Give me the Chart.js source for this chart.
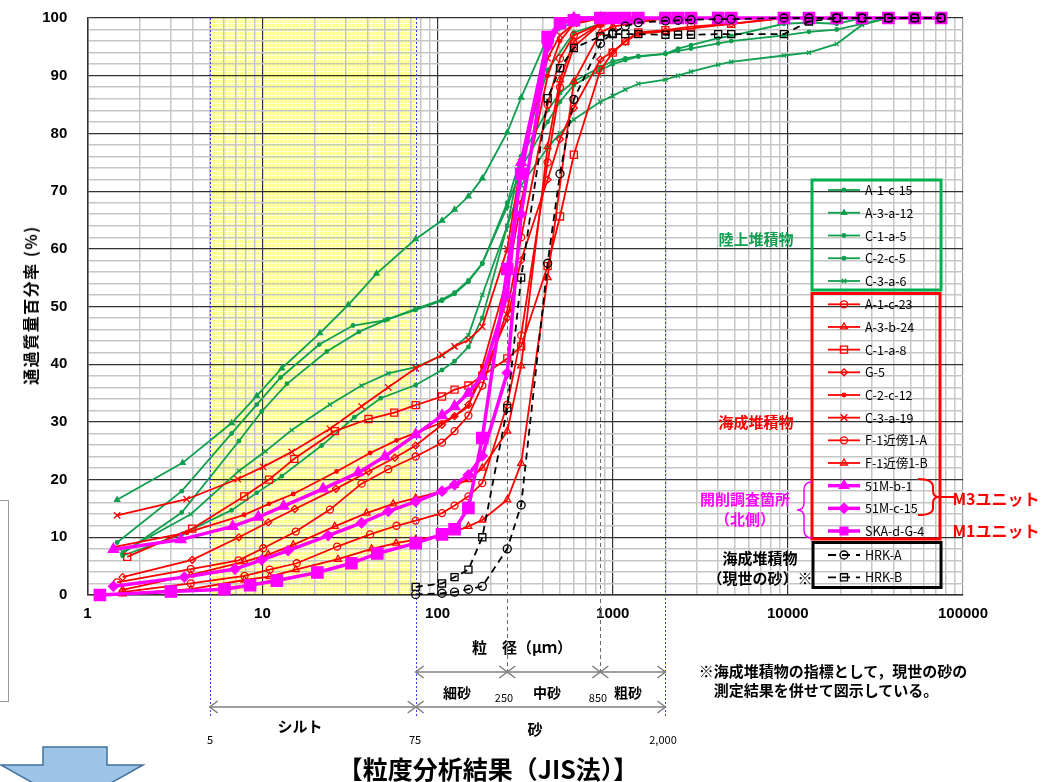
<!DOCTYPE html>
<html>
<head>
<meta charset="utf-8">
<script src="https://cdn.jsdelivr.net/npm/chart.js@4.4.1/dist/chart.umd.min.js"></script>
<style>
    body { margin: 0; background: #fff; width: 1047px; height: 782px; overflow: hidden; position: relative; }
    #myChart { position: absolute; left: 0; top: 0; }
    .c { position: absolute; transform: translate(-50%, -50%); white-space: nowrap; font-weight: bold; line-height: 1;
         font-family: "Noto Sans CJK JP", sans-serif; }
    .lg { position: absolute; left: 865px; transform: translateY(-50%); white-space: nowrap; line-height: 1;
          font-family: "Noto Sans CJK JP", sans-serif; font-size: 12.5px; color: #000; }
    .frag { position: absolute; left: -2px; top: 500px; width: 9px; height: 200px; border: 1px solid #9a9a9a; }
</style>
</head>
<body>
<canvas id="myChart" width="1047" height="782"></canvas>
<div class="frag"></div>

<div class="c" style="left:30px;top:305px;font-size:16px;letter-spacing:1.5px;transform:translate(-50%,-50%) rotate(-90deg)">通過質量百分率 (%)</div>
<div class="c" style="left:522px;top:646px;font-size:15px">粒　径（μｍ）</div>

<div class="c" style="left:457px;top:692px;font-size:14px">細砂</div>
<div class="c" style="left:504px;top:697px;font-size:11px;font-weight:normal">250</div>
<div class="c" style="left:547px;top:692px;font-size:14px">中砂</div>
<div class="c" style="left:598px;top:697px;font-size:11px;font-weight:normal">850</div>
<div class="c" style="left:628px;top:692px;font-size:14px">粗砂</div>
<div class="c" style="left:300px;top:725px;font-size:15px">シルト</div>
<div class="c" style="left:535px;top:728px;font-size:15px">砂</div>
<div class="c" style="left:210px;top:739px;font-size:11px;font-weight:normal">5</div>
<div class="c" style="left:415px;top:739px;font-size:11px;font-weight:normal">75</div>
<div class="c" style="left:663px;top:739px;font-size:11px;font-weight:normal">2,000</div>

<div class="c" style="left:833px;top:670px;font-size:15px">※海成堆積物の指標として，現世の砂の</div>
<div class="c" style="left:826px;top:689px;font-size:15px">測定結果を併せて図示している。</div>
<div class="c" style="left:488px;top:768px;font-size:25px">【粒度分析結果（JIS法）】</div>

<div class="c" style="left:756px;top:238px;font-size:15px;color:#0f9f4f">陸上堆積物</div>
<div class="c" style="left:756px;top:421px;font-size:15px;color:#ff0000">海成堆積物</div>
<div class="c" style="left:745px;top:498px;font-size:15px;color:#ff00ff">開削調査箇所</div>
<div class="c" style="left:745px;top:518px;font-size:15px;color:#ff00ff">（北側）</div>
<div class="c" style="left:996px;top:498px;font-size:16px;color:#ff0000">M3ユニット</div>
<div class="c" style="left:996px;top:530px;font-size:16px;color:#ff0000">M1ユニット</div>
<div class="c" style="left:760px;top:557px;font-size:15px">海成堆積物</div>
<div class="c" style="left:760px;top:577px;font-size:15px">（現世の砂）※</div>

<div id="legendText"></div>

<script>
// grain size (µm) / passing percentage (%)
const A_1_c_15 = [[1.48, 9.1], [3.46, 18.0], [6.67, 28.0], [9.28, 33.0], [12.7, 37.7], [21.1, 43.4], [32.9, 46.7], [50, 47.6], [75, 49.6], [106, 51.2], [125, 52.4], [150, 54.5], [180, 57.5], [250, 67.3], [300, 74], [425, 82], [500, 85.5], [600, 88.4], [850, 91], [1000, 92], [1180, 92.7], [1400, 93.3], [2000, 93.8], [2360, 94.3], [2800, 94.7], [4000, 95.6], [4750, 96], [9500, 97], [13200, 97.6], [19000, 98], [26500, 99], [37500, 100], [53000, 100], [75000, 100]];
const A_3_a_12 = [[1.48, 16.5], [3.5, 22.9], [6.67, 29.8], [9.28, 34.5], [12.9, 39.3], [21.3, 45.4], [30.9, 50.3], [44.8, 55.7], [75, 61.7], [106, 64.9], [125, 66.8], [150, 69.1], [180, 72.2], [250, 80.2], [300, 86.2], [425, 96.7], [600, 99.5], [850, 100], [2000, 100]];
const C_1_a_5 = [[1.59, 7.2], [3.46, 14.3], [7.34, 26.7], [9.9, 31.8], [13.8, 36.6], [23.3, 42.2], [35.5, 45.6], [52, 47.8], [75, 49.4], [106, 51], [125, 52.2], [150, 54.3], [180, 57.4], [250, 68], [300, 76], [425, 84], [500, 87], [600, 89], [850, 91.5], [1000, 92.5], [1180, 93], [1400, 93.4], [2000, 93.8], [2360, 94.7], [2800, 95.3], [4000, 96.5], [4750, 96.9], [9500, 99], [13200, 99.2], [19000, 99], [26500, 100], [37500, 100], [75000, 100]];
const C_2_c_5 = [[1.59, 6.8], [3.5, 10.6], [6.67, 14.7], [9.28, 17.7], [12.9, 20.6], [21.8, 25.9], [33.5, 30.8], [47.3, 34.1], [75, 36.4], [106, 39], [125, 40.5], [150, 43], [180, 48], [250, 64], [300, 76], [425, 91], [600, 97.5], [850, 99], [1000, 100], [2000, 100]];
const C_3_a_6 = [[1.59, 7.5], [3.9, 14.0], [7.34, 21.5], [10.4, 24.9], [14.7, 28.6], [24.3, 33.0], [36.8, 36.3], [52.3, 38.4], [75, 39.5], [106, 41.5], [125, 43], [150, 45], [180, 52], [250, 64], [300, 71], [425, 77.5], [500, 80], [600, 82.4], [850, 85.5], [1000, 86.5], [1180, 87.6], [1400, 88.6], [2000, 89.3], [2360, 90], [2800, 90.7], [4000, 91.9], [4750, 92.4], [9500, 93.5], [13200, 94], [19000, 95.5], [26500, 98.8], [37500, 100], [53000, 100], [75000, 100]];

const A_1_c_23 = [[1.48, 2.2], [3.9, 4.5], [7.3, 6.0], [10.1, 8.1], [15.5, 11], [24.3, 14.8], [36.8, 19.3], [52.3, 21.8], [75, 24.0], [106, 26.4], [125, 28.4], [150, 31.1], [180, 36.3], [250, 49.4], [300, 62], [425, 85], [500, 93], [600, 97], [850, 99], [1000, 99.5], [2000, 100]];
const A_3_b_24 = [[1.59, 0.9], [3.9, 3.5], [7.9, 5.8], [10.8, 7.0], [15, 8.7], [25.9, 11.9], [39.3, 14.2], [55.8, 15.8], [75, 16.8], [106, 18.0], [125, 19], [150, 20.0], [180, 22.0], [250, 28.4], [300, 39.7], [425, 77.7], [500, 89.3], [600, 96], [850, 99], [2000, 100]];
const C_1_a_8 = [[1.69, 6.6], [3.97, 11.5], [7.87, 17.1], [10.9, 20.0], [15.2, 23.6], [25.9, 28.4], [40.3, 30.5], [56.6, 31.6], [75, 32.9], [106, 34.4], [125, 35.6], [150, 36.3], [180, 38], [250, 41], [300, 43.1], [425, 57], [500, 65.6], [600, 76.3], [850, 91], [1000, 94], [1180, 96], [1400, 97.5], [2000, 97.9], [2800, 98.5], [4750, 99], [9500, 100]];
const G_5 = [[1.59, 3.1], [3.97, 6.1], [7.34, 10.0], [10.8, 12.6], [15.3, 14.9], [26.3, 18.4], [40.3, 21.4], [57, 23.8], [75, 25.9], [106, 29.5], [125, 31], [150, 33], [180, 38], [250, 48], [300, 58], [425, 72], [500, 79], [600, 84.4], [850, 92.8], [1000, 94.2], [1180, 95.9], [1400, 97.3], [2000, 97.7], [4750, 99], [9500, 100]];
const C_2_c_12 = [[1.41, 8.3], [3.7, 10.8], [7.87, 13.9], [10.9, 15.8], [15, 17.5], [26.5, 21.4], [41.2, 24.6], [58.3, 26.8], [75, 28.1], [106, 29.9], [125, 31], [150, 32.7], [180, 39.6], [250, 55], [300, 68], [425, 90], [500, 96], [600, 99], [850, 100], [2000, 100]];
const C_3_a_19 = [[1.48, 13.8], [3.69, 16.6], [7.22, 20.1], [10.1, 22.2], [14.7, 24.8], [24.3, 28.8], [36.8, 32.7], [52.3, 36.0], [75, 39.3], [106, 41.6], [125, 43.1], [150, 44.2], [180, 46.5], [250, 60], [300, 75], [425, 93], [500, 97], [600, 99], [850, 100], [2000, 100]];
const F_1_A = [[1.59, 0.5], [3.9, 2.0], [7.9, 3.3], [11, 4.4], [15.7, 5.5], [26.7, 8.4], [41.2, 10.5], [58.3, 12.0], [75, 12.9], [106, 14.2], [125, 15.5], [150, 17.1], [180, 19.4], [250, 33], [300, 45], [425, 75], [500, 88], [600, 95], [850, 99], [2000, 100]];
const F_1_B = [[1.59, 0.2], [3.9, 1.0], [7.9, 2.6], [11, 3.2], [15.5, 4.4], [27, 6.2], [42, 8.0], [58, 9.0], [75, 9.6], [106, 10.3], [125, 11.0], [150, 11.9], [180, 13.0], [250, 16.5], [300, 22.8], [425, 55], [600, 89], [850, 97.5], [1000, 98.5], [2000, 100]];

const M51_b_1 = [[1.41, 7.9], [3.42, 9.6], [6.76, 11.9], [9.46, 13.5], [13.2, 15.4], [22.2, 18.4], [35.2, 21.2], [50, 24.0], [75, 27.8], [106, 31.1], [125, 32.7], [150, 35.0], [180, 37.9], [250, 52], [300, 75], [425, 96], [500, 99], [600, 100], [850, 100]];
const M51_c_15 = [[1.41, 1.5], [3.58, 3.1], [6.97, 4.5], [9.9, 6.1], [14.0, 7.7], [23.7, 10.3], [36.8, 12.5], [52.3, 14.5], [75, 16.2], [106, 18.0], [125, 19.1], [150, 20.8], [180, 24.1], [250, 38.5], [300, 66], [425, 95], [500, 99], [600, 100], [850, 100]];
const SKA_d_G_4 = [[1.18, 0], [3.0, 0.6], [6.07, 1.0], [8.5, 1.7], [12.1, 2.5], [20.6, 3.9], [32.2, 5.5], [45.3, 7.2], [75, 9.0], [106, 10.5], [125, 11.4], [150, 15.1], [180, 27.2], [250, 56.5], [300, 73], [425, 96.7], [500, 99.1], [600, 99.6], [850, 100], [1000, 100], [1180, 100], [1400, 100], [2000, 100], [2360, 100], [2800, 100], [4000, 100], [4750, 100], [9500, 100], [13200, 100], [19000, 100], [26500, 100], [37500, 100], [53000, 100], [75000, 100]];

const HRK_A = [[75, 0.1], [106, 0.3], [125, 0.5], [150, 1.0], [180, 1.5], [250, 8.0], [300, 15.6], [425, 57.5], [500, 73], [600, 85.9], [850, 95.6], [1000, 97.4], [1180, 98.6], [1400, 99.2], [2000, 99.5], [2360, 99.6], [2800, 99.7], [4000, 99.8], [4750, 99.8], [9500, 100], [13200, 100], [19000, 100], [26500, 100], [37500, 100], [53000, 100], [75000, 100]];
const HRK_B = [[75, 1.4], [106, 2.0], [125, 3.1], [150, 4.4], [180, 10.0], [250, 32.4], [300, 55], [425, 86.1], [500, 91.3], [600, 94.8], [850, 96.8], [1000, 97.2], [1180, 97.2], [1400, 97.2], [2000, 97.1], [2360, 97.1], [2800, 97.1], [4000, 97.2], [4750, 97.2], [9500, 97.2], [13200, 99.4], [19000, 100], [26500, 100], [37500, 100], [53000, 100], [75000, 100]];

// soil class boundaries (µm)
const siltRange = [5, 75];
const sandBounds = [75, 250, 850, 2000];
const yTicks = [0, 10, 20, 30, 40, 50, 60, 70, 80, 90, 100];

const GREEN = '#0f9f4f', RED = '#ff0000', MAG = '#ff00ff', BLK = '#000000';
const groupStyle = {
    g: { color: GREEN, width: 1.8, order: 3 },
    r: { color: RED, width: 1.8, order: 2 },
    m: { color: MAG, width: 3.5, order: 1 },
    k: { color: BLK, width: 1.8, order: 0, dash: [7, 5] },
};

const series = [
    { label: 'A-1-c-15', pts: A_1_c_15, group: 'g', style: 'circle', r: 1.8, fill: true },
    { label: 'A-3-a-12', pts: A_3_a_12, group: 'g', style: 'triangle', r: 3, fill: true },
    { label: 'C-1-a-5', pts: C_1_a_5, group: 'g', style: 'circle', r: 1.8, fill: true },
    { label: 'C-2-c-5', pts: C_2_c_5, group: 'g', style: 'circle', r: 1.8, fill: true },
    { label: 'C-3-a-6', pts: C_3_a_6, group: 'g', style: 'crossRot', r: 3 },
    { label: 'A-1-c-23', pts: A_1_c_23, group: 'r', style: 'circle', r: 3.5 },
    { label: 'A-3-b-24', pts: A_3_b_24, group: 'r', style: 'triangle', r: 4 },
    { label: 'C-1-a-8', pts: C_1_a_8, group: 'r', style: 'rect', r: 5 },
    { label: 'G-5', pts: G_5, group: 'r', style: 'rectRot', r: 3.5 },
    { label: 'C-2-c-12', pts: C_2_c_12, group: 'r', style: 'circle', r: 1.8, fill: true },
    { label: 'C-3-a-19', pts: C_3_a_19, group: 'r', style: 'crossRot', r: 4.5 },
    { label: 'F-1近傍1-A', pts: F_1_A, group: 'r', style: 'circle', r: 3.5 },
    { label: 'F-1近傍1-B', pts: F_1_B, group: 'r', style: 'triangle', r: 4 },
    { label: '51M-b-1', pts: M51_b_1, group: 'm', style: 'triangle', r: 6, fill: true },
    { label: '51M-c-15', pts: M51_c_15, group: 'm', style: 'rectRot', r: 5, fill: true },
    { label: 'SKA-d-G-4', pts: SKA_d_G_4, group: 'm', style: 'rect', r: 8, fill: true },
    { label: 'HRK-A', pts: HRK_A, group: 'k', style: 'circle', r: 4 },
    { label: 'HRK-B', pts: HRK_B, group: 'k', style: 'rect', r: 5 },
];

const datasets = series.map(s => {
    const g = groupStyle[s.group];
    return {
        label: s.label,
        data: s.pts.map(([x, y]) => ({ x, y })),
        borderColor: g.color,
        backgroundColor: g.color,
        borderWidth: g.width,
        borderDash: g.dash || [],
        pointStyle: s.style,
        pointRadius: s.r,
        pointHoverRadius: s.r,
        pointBorderColor: g.color,
        pointBackgroundColor: s.fill ? g.color : 'rgba(255,255,255,0)',
        pointBorderWidth: 1.3,
        tension: 0,
        clip: false,
        order: g.order,
    };
});

const isDecade = v => Math.abs(Math.log10(v) - Math.round(Math.log10(v))) < 1e-9;

function drawMarker(ctx, style, x, y, r, color, fill) {
    ctx.save();
    ctx.strokeStyle = color;
    ctx.fillStyle = color;
    ctx.lineWidth = 1.3;
    ctx.setLineDash([]);
    ctx.beginPath();
    if (style === 'circle') {
        ctx.arc(x, y, r, 0, Math.PI * 2);
    } else if (style === 'triangle') {
        ctx.moveTo(x, y - r);
        ctx.lineTo(x + r * 0.866, y + r * 0.5);
        ctx.lineTo(x - r * 0.866, y + r * 0.5);
        ctx.closePath();
    } else if (style === 'rect') {
        const s = r / Math.SQRT2;
        ctx.rect(x - s, y - s, 2 * s, 2 * s);
    } else if (style === 'rectRot') {
        ctx.moveTo(x, y - r); ctx.lineTo(x + r, y); ctx.lineTo(x, y + r); ctx.lineTo(x - r, y);
        ctx.closePath();
    } else if (style === 'crossRot') {
        const s = r * 0.75;
        ctx.moveTo(x - s, y - s); ctx.lineTo(x + s, y + s);
        ctx.moveTo(x - s, y + s); ctx.lineTo(x + s, y - s);
    }
    if (fill) ctx.fill();
    ctx.stroke();
    ctx.restore();
}

function makeYellow(ctx) {
    const c = document.createElement('canvas');
    c.width = 4; c.height = 4;
    const p = c.getContext('2d');
    p.fillStyle = '#ffff94';
    p.fillRect(0, 0, 4, 4);
    p.fillStyle = '#fffff2';
    p.fillRect(3, 0, 1, 4);
    p.fillRect(0, 3, 4, 1);
    return ctx.createPattern(c, 'repeat');
}

// legend rows: [index into series, y]
const legendRows = [];
for (let i = 0; i < 5; i++) legendRows.push([i, 190 + i * 22.75]);
for (let i = 0; i < 11; i++) legendRows.push([5 + i, 304.3 + i * 22.67]);
legendRows.push([16, 555], [17, 577.3]);

document.getElementById('legendText').innerHTML = legendRows.map(([i, y]) =>
    `<div class="lg" style="top:${y}px">${series[i].label}</div>`).join('');

const overlay = {
    id: 'overlay',
    beforeDraw(chart) {
        const { ctx, chartArea: a, scales: { x } } = chart;
        const x1 = x.getPixelForValue(siltRange[0]);
        const x2 = x.getPixelForValue(siltRange[1]);
        ctx.save();
        ctx.fillStyle = makeYellow(ctx);
        ctx.fillRect(x1, a.top, x2 - x1, a.bottom - a.top);
        ctx.restore();
    },
    beforeDatasetsDraw(chart) {
        const { ctx, chartArea: a, scales: { x } } = chart;
        ctx.save();
        ctx.lineWidth = 1;
        ctx.strokeStyle = '#3a3aff';
        ctx.setLineDash([2, 2]);
        [siltRange[0], siltRange[1], sandBounds[3]].forEach(v => {
            const px = Math.round(x.getPixelForValue(v)) + 0.5;
            ctx.beginPath(); ctx.moveTo(px, a.top); ctx.lineTo(px, 716); ctx.stroke();
        });
        ctx.strokeStyle = '#6a6a6a';
        ctx.setLineDash([4, 3]);
        [sandBounds[1], sandBounds[2]].forEach(v => {
            const px = Math.round(x.getPixelForValue(v)) + 0.5;
            ctx.beginPath(); ctx.moveTo(px, a.top); ctx.lineTo(px, 672); ctx.stroke();
        });
        ctx.restore();
    },
    afterDraw(chart) {
        const { ctx, scales: { x } } = chart;
        const px = v => x.getPixelForValue(v);
        ctx.save();
        // size class arrows
        ctx.strokeStyle = '#7f7f7f';
        ctx.lineWidth = 1.5;
        ctx.setLineDash([]);
        const line = (x1, x2, y) => { ctx.beginPath(); ctx.moveTo(x1, y); ctx.lineTo(x2, y); ctx.stroke(); };
        const headL = (xx, y) => { ctx.beginPath(); ctx.moveTo(xx + 8, y - 6); ctx.lineTo(xx, y); ctx.lineTo(xx + 8, y + 6); ctx.stroke(); };
        const headR = (xx, y) => { ctx.beginPath(); ctx.moveTo(xx - 8, y - 6); ctx.lineTo(xx, y); ctx.lineTo(xx - 8, y + 6); ctx.stroke(); };
        const y1 = 672, y2 = 707;
        line(px(sandBounds[0]), px(sandBounds[3]), y1);
        headL(px(sandBounds[0]), y1);
        headR(px(sandBounds[3]), y1);
        [sandBounds[1], sandBounds[2]].forEach(v => { headL(px(v), y1); headR(px(v), y1); });
        line(px(siltRange[0]), px(sandBounds[3]), y2);
        headL(px(siltRange[0]), y2);
        headR(px(siltRange[1]), y2);
        headL(px(siltRange[1]), y2);
        headR(px(sandBounds[3]), y2);

        // legend boxes
        ctx.lineWidth = 3;
        ctx.strokeStyle = '#00b050';
        ctx.strokeRect(812, 180, 129, 110);
        ctx.strokeStyle = RED;
        ctx.strokeRect(812, 293.5, 128, 245.5);
        ctx.strokeStyle = BLK;
        ctx.strokeRect(813, 542.5, 128, 45);

        // legend samples
        legendRows.forEach(([i, y]) => {
            const s = series[i], g = groupStyle[s.group];
            ctx.save();
            ctx.strokeStyle = g.color;
            ctx.lineWidth = g.width;
            ctx.setLineDash(g.dash ? [8, 6] : []);
            ctx.beginPath(); ctx.moveTo(828, y); ctx.lineTo(860, y); ctx.stroke();
            ctx.restore();
            drawMarker(ctx, s.style, 844, y, Math.min(s.r, 5.5), g.color, s.fill);
        });

        // magenta brace for excavation samples
        ctx.lineWidth = 1.5;
        ctx.strokeStyle = MAG;
        ctx.beginPath();
        ctx.moveTo(812, 482);
        ctx.quadraticCurveTo(804, 482, 804, 490);
        ctx.lineTo(804, 503);
        ctx.quadraticCurveTo(804, 510, 797, 510);
        ctx.quadraticCurveTo(804, 510, 804, 517);
        ctx.lineTo(804, 530);
        ctx.quadraticCurveTo(804, 538, 812, 538);
        ctx.stroke();

        // red bracket for M3 unit
        ctx.lineWidth = 2;
        ctx.strokeStyle = RED;
        ctx.beginPath();
        ctx.moveTo(918, 479);
        ctx.quadraticCurveTo(933, 479, 933, 487);
        ctx.lineTo(933, 491);
        ctx.quadraticCurveTo(933, 497, 939, 497);
        ctx.quadraticCurveTo(933, 497, 933, 503);
        ctx.lineTo(933, 508);
        ctx.quadraticCurveTo(933, 515, 918, 515);
        ctx.moveTo(939, 497);
        ctx.lineTo(954, 497);
        ctx.stroke();

        // down arrow
        ctx.lineWidth = 1.5;
        ctx.fillStyle = '#9dc3e6';
        ctx.strokeStyle = '#41719c';
        ctx.beginPath();
        ctx.moveTo(43, 747); ctx.lineTo(107, 747); ctx.lineTo(107, 765); ctx.lineTo(143, 765);
        ctx.lineTo(72, 805); ctx.lineTo(1, 765); ctx.lineTo(43, 765); ctx.closePath();
        ctx.fill(); ctx.stroke();
        ctx.restore();
    }
};

const tickFont = { family: 'Liberation Sans, Arial, sans-serif', size: 15, weight: 'bold' };

new Chart(document.getElementById('myChart'), {
    type: 'line',
    data: { datasets },
    plugins: [overlay],
    options: {
        responsive: false,
        animation: false,
        devicePixelRatio: 1,
        layout: { padding: { left: 0, right: 84, top: 18, bottom: 157 } },
        plugins: { legend: { display: false }, tooltip: { enabled: false } },
        scales: {
            x: {
                type: 'logarithmic',
                min: 1,
                max: 100000,
                afterBuildTicks: s => {
                    const t = [];
                    for (let e = 0; e < 5; e++) for (let m = 1; m < 10; m++) t.push({ value: m * Math.pow(10, e) });
                    t.push({ value: 100000 });
                    s.ticks = t;
                },
                afterFit: s => { s.height = 30; s.paddingLeft = 0; s.paddingRight = 0; },
                ticks: {
                    autoSkip: false,
                    maxRotation: 0,
                    padding: 10,
                    color: '#000',
                    font: tickFont,
                    callback: v => isDecade(v) ? String(Math.round(v)) : '',
                },
                grid: {
                    drawTicks: false,
                    color: c => c.tick && isDecade(c.tick.value) ? (c.tick.value === 100000 ? '#9a9a9a' : '#333') : '#c6c6c6',
                    lineWidth: c => c.tick && isDecade(c.tick.value) ? 1.2 : 1.5,
                },
                border: { color: '#333', width: 1.5 },
            },
            y: {
                min: 0,
                max: 100,
                afterBuildTicks: s => {
                    const t = [];
                    for (let v = 0; v <= 100; v += 2) t.push({ value: v });
                    s.ticks = t;
                },
                afterFit: s => { s.width = 87.3; s.paddingTop = 0; s.paddingBottom = 0; },
                ticks: {
                    autoSkip: false,
                    padding: 20,
                    color: '#000',
                    font: tickFont,
                    callback: v => yTicks.includes(v) ? String(v) : '',
                },
                grid: {
                    drawTicks: false,
                    color: c => c.tick && c.tick.value % 10 === 0 ? '#333' : '#c6c6c6',
                    lineWidth: c => c.tick && c.tick.value % 10 === 0 ? 1.2 : 1.5,
                },
                border: { color: '#333', width: 1.5 },
            }
        }
    }
});
</script>
</body>
</html>
